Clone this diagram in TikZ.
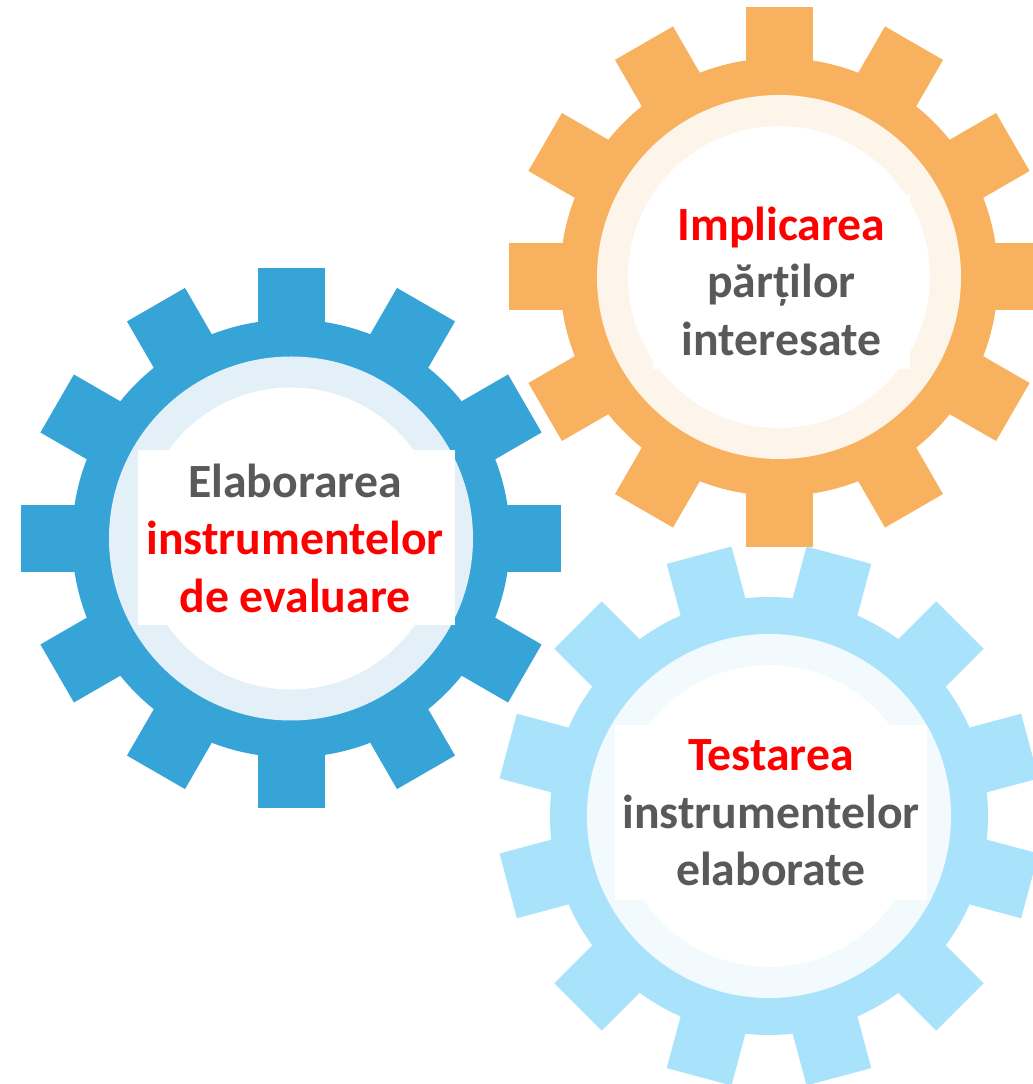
\documentclass[tikz,border=0pt]{standalone}
\usepackage{fontspec}
\setmainfont{Carlito}[BoldFont=Carlito Bold]
\definecolor{bluemain}{HTML}{36A4D6}
\definecolor{bluepale}{HTML}{E3F0F8}
\definecolor{orangemain}{HTML}{F8B25F}
\definecolor{orangepale}{HTML}{FDF4EA}
\definecolor{lightmain}{HTML}{A9E2FB}
\definecolor{lightpale}{HTML}{F3FAFD}
\definecolor{txtred}{HTML}{FF0000}
\definecolor{txtgray}{HTML}{595959}
\newcommand{\drawgear}[5]{%
  \begin{scope}[shift={(#1,{1084-#2})}]
    \fill[#4] (0,0) circle[radius=219];
    \foreach \k in {0,30,...,330}{
      \fill[#4,rotate={#3+\k}] (200,-33.5) rectangle (270,33.5);
    }
    \fill[#5] (0,0) circle[radius=182];
    \fill[white] (0,0) circle[radius=151];
  \end{scope}}
\tikzset{
  patch/.style={fill=white,inner sep=0pt,outer sep=0pt},
  gearlabel/.style={inner sep=0pt,align=center,font=\fontsize{47.7}{57.5}\selectfont\bfseries,text=txtgray}
}
\begin{document}
\begin{tikzpicture}[x=1pt,y=1pt]
  \useasboundingbox (0,0) rectangle (1033,1084);
  \fill[white] (0,0) rectangle (1033,1084);
  \clip (0,0) rectangle (1033,1084);
  \drawgear{779}{277}{0}{orangemain}{orangepale}
  \drawgear{769}{816}{15}{lightmain}{lightpale}
  \drawgear{291}{538.5}{0}{bluemain}{bluepale}
  \path[patch] (138,{1084-450}) rectangle (454.5,{1084-625});
  \path[patch] (653,{1084-195}) rectangle (910,{1084-369});
  \path[patch] (615,{1084-725}) rectangle (927,{1084-900});
  \node[gearlabel] (elab) at (295,{1084-538}) {Elaborarea\\\textcolor{txtred}{instrumentelor}\\\textcolor{txtred}{de evaluare}};
  \node[gearlabel] (impl) at (781.5,{1084-281}) {\textcolor{txtred}{Implicarea}\\părților\\interesate};
  \node[gearlabel] (test) at (771,{1084-813}) {\textcolor{txtred}{Testarea}\\instrumentelor\\elaborate};
\end{tikzpicture}
\end{document}
